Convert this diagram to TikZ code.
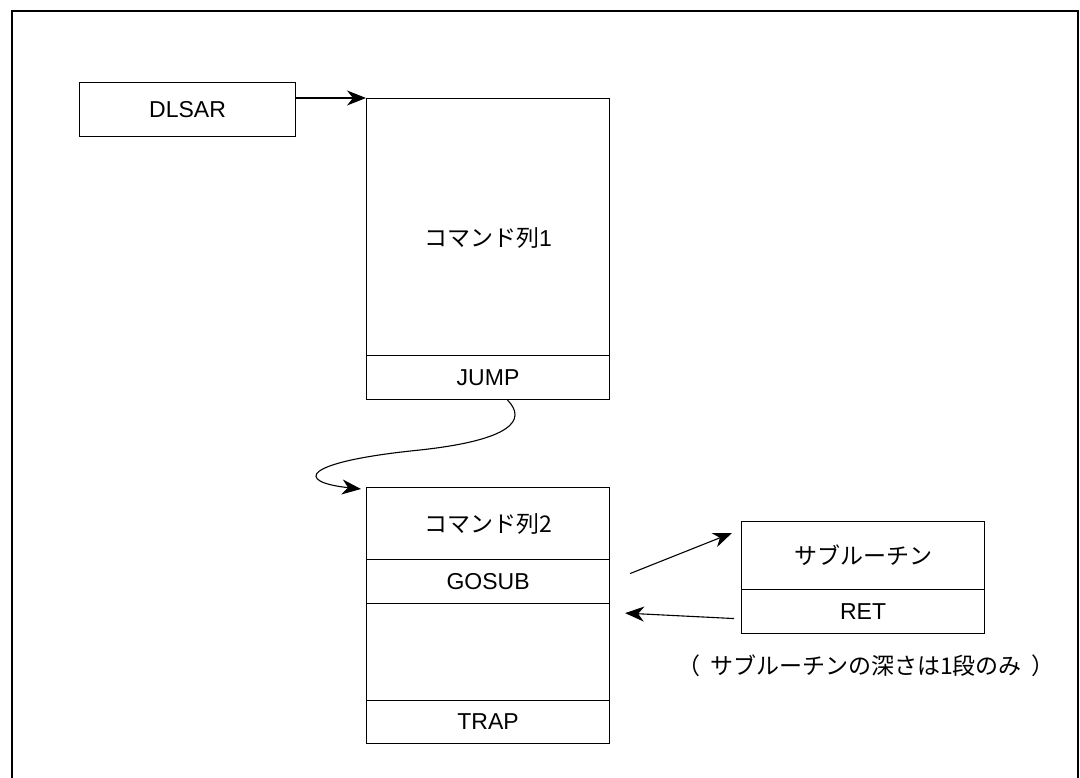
\documentclass[tikz,border=0pt]{standalone}
\usepackage{fontspec}
\setmainfont{Liberation Sans}
\newfontfamily\jp{Noto Sans CJK JP}
\usetikzlibrary{arrows.meta,calc}
\tikzset{
  box/.style={draw, line width=1.1pt, inner sep=0pt, anchor=north west,
    font=\fontsize{23}{27}\selectfont},
  arr/.style={line width=1.1pt, -{Stealth[length=19pt,width=15pt,inset=6pt]}},
  frame/.style={line width=1.3pt},
}
\begin{document}
\begin{tikzpicture}[x=1pt,y=-1pt]
\useasboundingbox (0,0) rectangle (1080,778);
% outer frame (open at the bottom)
\draw[frame] (12,778) -- (12,11) -- (1078,11) -- (1078,778);
% DLSAR
\node[box, minimum width=216pt, minimum height=54pt] (dlsar) at (79,82) {DLSAR};
% command list 1
\node[box, minimum width=243pt, minimum height=257pt] (c1a) at (366,98) {};
\node at ($(c1a.center)+(0,11)$) {\fontsize{23}{27}\selectfont{\jp コマンド列}1};
\node[box, minimum width=243pt, minimum height=44pt] (jump) at (366,355) {JUMP};
% command list 2
\node[box, minimum width=243pt, minimum height=72pt] (c2a) at (366,487) {\jp コマンド列2};
\node[box, minimum width=243pt, minimum height=44pt] (gosub) at (366,559) {GOSUB};
\node[box, minimum width=243pt, minimum height=97pt] (c2c) at (366,603) {};
\node[box, minimum width=243pt, minimum height=43pt] (trap) at (366,700) {TRAP};
% subroutine
\node[box, minimum width=243pt, minimum height=68pt] (sub) at (741,521) {\jp サブルーチン};
\node[box, minimum width=243pt, minimum height=44pt] (ret) at (741,589) {RET};
\node[font=\fontsize{23}{27}\selectfont, inner sep=0pt] (note) at (866,666)
  {\jp （\hspace{10pt}サブルーチンの深さは1段のみ\hspace{10pt}）};
% connectors
\draw[arr] (dlsar.east |- c1a.north) -- (c1a.north west);
\draw[arr] ($(jump.south)+(19.5,0)$) .. controls (527,420) and (512,440) .. (420,450)
  .. controls (300,462) and (295,482) .. ($(c2a.north west)+(-5,2)$);
\draw[arr] ($(gosub.east)+(20,-8)$) -- ($(sub.north west)+(-9,12)$);
\draw[arr] ($(ret.west)+(-7,7)$) -- ($(gosub.south east)+(15,9)$);
\end{tikzpicture}
\end{document}
